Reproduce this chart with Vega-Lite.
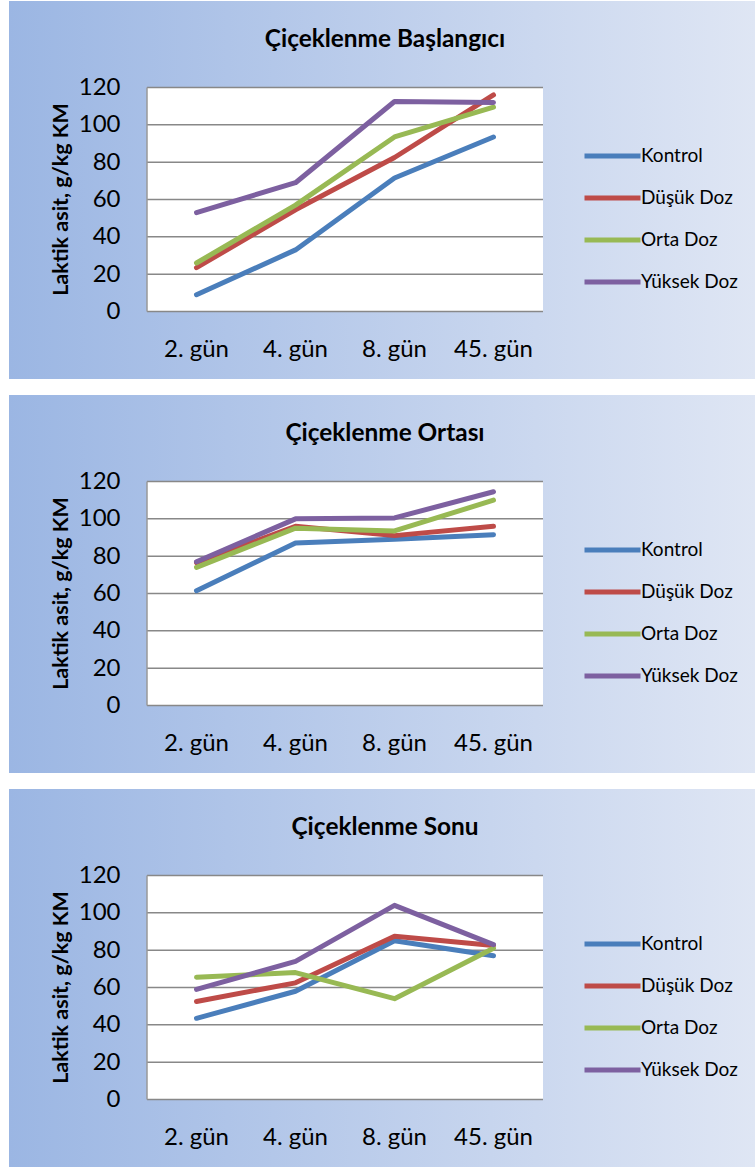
{
  "$schema": "https://vega.github.io/schema/vega-lite/v6.json",
  "background": "white",
  "padding": {"left": 9, "top": 1, "right": 0, "bottom": 0},
  "spacing": 16,
  "datasets": {
    "olcum": [
      {"stage": "Çiçeklenme Başlangıcı", "day": "2. gün", "group": "Kontrol", "value": 9},
      {"stage": "Çiçeklenme Başlangıcı", "day": "4. gün", "group": "Kontrol", "value": 33},
      {"stage": "Çiçeklenme Başlangıcı", "day": "8. gün", "group": "Kontrol", "value": 71.5},
      {"stage": "Çiçeklenme Başlangıcı", "day": "45. gün", "group": "Kontrol", "value": 93.5},
      {"stage": "Çiçeklenme Başlangıcı", "day": "2. gün", "group": "Düşük Doz", "value": 23.5},
      {"stage": "Çiçeklenme Başlangıcı", "day": "4. gün", "group": "Düşük Doz", "value": 54.5},
      {"stage": "Çiçeklenme Başlangıcı", "day": "8. gün", "group": "Düşük Doz", "value": 82.5},
      {"stage": "Çiçeklenme Başlangıcı", "day": "45. gün", "group": "Düşük Doz", "value": 116},
      {"stage": "Çiçeklenme Başlangıcı", "day": "2. gün", "group": "Orta Doz", "value": 26},
      {"stage": "Çiçeklenme Başlangıcı", "day": "4. gün", "group": "Orta Doz", "value": 57},
      {"stage": "Çiçeklenme Başlangıcı", "day": "8. gün", "group": "Orta Doz", "value": 93.5},
      {"stage": "Çiçeklenme Başlangıcı", "day": "45. gün", "group": "Orta Doz", "value": 109.5},
      {"stage": "Çiçeklenme Başlangıcı", "day": "2. gün", "group": "Yüksek Doz", "value": 53},
      {"stage": "Çiçeklenme Başlangıcı", "day": "4. gün", "group": "Yüksek Doz", "value": 69},
      {"stage": "Çiçeklenme Başlangıcı", "day": "8. gün", "group": "Yüksek Doz", "value": 112.5},
      {"stage": "Çiçeklenme Başlangıcı", "day": "45. gün", "group": "Yüksek Doz", "value": 112},
      {"stage": "Çiçeklenme Ortası", "day": "2. gün", "group": "Kontrol", "value": 61.5},
      {"stage": "Çiçeklenme Ortası", "day": "4. gün", "group": "Kontrol", "value": 87},
      {"stage": "Çiçeklenme Ortası", "day": "8. gün", "group": "Kontrol", "value": 89},
      {"stage": "Çiçeklenme Ortası", "day": "45. gün", "group": "Kontrol", "value": 91.5},
      {"stage": "Çiçeklenme Ortası", "day": "2. gün", "group": "Düşük Doz", "value": 76.5},
      {"stage": "Çiçeklenme Ortası", "day": "4. gün", "group": "Düşük Doz", "value": 96},
      {"stage": "Çiçeklenme Ortası", "day": "8. gün", "group": "Düşük Doz", "value": 91},
      {"stage": "Çiçeklenme Ortası", "day": "45. gün", "group": "Düşük Doz", "value": 96},
      {"stage": "Çiçeklenme Ortası", "day": "2. gün", "group": "Orta Doz", "value": 74},
      {"stage": "Çiçeklenme Ortası", "day": "4. gün", "group": "Orta Doz", "value": 95},
      {"stage": "Çiçeklenme Ortası", "day": "8. gün", "group": "Orta Doz", "value": 93.5},
      {"stage": "Çiçeklenme Ortası", "day": "45. gün", "group": "Orta Doz", "value": 110},
      {"stage": "Çiçeklenme Ortası", "day": "2. gün", "group": "Yüksek Doz", "value": 77},
      {"stage": "Çiçeklenme Ortası", "day": "4. gün", "group": "Yüksek Doz", "value": 100},
      {"stage": "Çiçeklenme Ortası", "day": "8. gün", "group": "Yüksek Doz", "value": 100.5},
      {"stage": "Çiçeklenme Ortası", "day": "45. gün", "group": "Yüksek Doz", "value": 114.5},
      {"stage": "Çiçeklenme Sonu", "day": "2. gün", "group": "Kontrol", "value": 43.5},
      {"stage": "Çiçeklenme Sonu", "day": "4. gün", "group": "Kontrol", "value": 58},
      {"stage": "Çiçeklenme Sonu", "day": "8. gün", "group": "Kontrol", "value": 85},
      {"stage": "Çiçeklenme Sonu", "day": "45. gün", "group": "Kontrol", "value": 77},
      {"stage": "Çiçeklenme Sonu", "day": "2. gün", "group": "Düşük Doz", "value": 52.5},
      {"stage": "Çiçeklenme Sonu", "day": "4. gün", "group": "Düşük Doz", "value": 62.5},
      {"stage": "Çiçeklenme Sonu", "day": "8. gün", "group": "Düşük Doz", "value": 87.5},
      {"stage": "Çiçeklenme Sonu", "day": "45. gün", "group": "Düşük Doz", "value": 82.5},
      {"stage": "Çiçeklenme Sonu", "day": "2. gün", "group": "Orta Doz", "value": 65.5},
      {"stage": "Çiçeklenme Sonu", "day": "4. gün", "group": "Orta Doz", "value": 68},
      {"stage": "Çiçeklenme Sonu", "day": "8. gün", "group": "Orta Doz", "value": 54},
      {"stage": "Çiçeklenme Sonu", "day": "45. gün", "group": "Orta Doz", "value": 81},
      {"stage": "Çiçeklenme Sonu", "day": "2. gün", "group": "Yüksek Doz", "value": 59},
      {"stage": "Çiçeklenme Sonu", "day": "4. gün", "group": "Yüksek Doz", "value": 74},
      {"stage": "Çiçeklenme Sonu", "day": "8. gün", "group": "Yüksek Doz", "value": 104},
      {"stage": "Çiçeklenme Sonu", "day": "45. gün", "group": "Yüksek Doz", "value": 83}
    ],
    "gunler": [
      {"day": "2. gün"}, {"day": "4. gün"}, {"day": "8. gün"}, {"day": "45. gün"}
    ],
    "izgara": [
      {"day": "2. gün", "g": 0}, {"day": "2. gün", "g": 20}, {"day": "2. gün", "g": 40}, {"day": "2. gün", "g": 60}, {"day": "2. gün", "g": 80}, {"day": "2. gün", "g": 100}, {"day": "2. gün", "g": 120},
      {"day": "4. gün", "g": 0}, {"day": "4. gün", "g": 20}, {"day": "4. gün", "g": 40}, {"day": "4. gün", "g": 60}, {"day": "4. gün", "g": 80}, {"day": "4. gün", "g": 100}, {"day": "4. gün", "g": 120},
      {"day": "8. gün", "g": 0}, {"day": "8. gün", "g": 20}, {"day": "8. gün", "g": 40}, {"day": "8. gün", "g": 60}, {"day": "8. gün", "g": 80}, {"day": "8. gün", "g": 100}, {"day": "8. gün", "g": 120},
      {"day": "45. gün", "g": 0}, {"day": "45. gün", "g": 20}, {"day": "45. gün", "g": 40}, {"day": "45. gün", "g": 60}, {"day": "45. gün", "g": 80}, {"day": "45. gün", "g": 100}, {"day": "45. gün", "g": 120}
    ]
  },
  "resolve": {
    "scale": {"x": "independent", "y": "independent", "color": "independent"},
    "axis": {"x": "independent", "y": "independent"},
    "legend": {"color": "independent"}
  },
  "vconcat": [
    {
      "width": 746, "height": 378,
      "title": {"text": "Çiçeklenme Başlangıcı"},
      "view": {"stroke": null, "fill": {"gradient": "linear", "x1": 0, "y1": 0, "x2": 1, "y2": 0, "stops": [{"offset": 0, "color": "#9bb6e3"}, {"offset": 1, "color": "#dfe6f4"}]}},
      "layer": [
        {
          "data": {"name": "gunler"},
          "mark": {"type": "rect", "fill": "white"},
          "encoding": {
            "x": {"field": "day", "type": "nominal", "sort": null, "scale": {"type": "band", "domain": ["2. gün", "4. gün", "8. gün", "45. gün"], "range": [138, 534], "paddingInner": 0, "paddingOuter": 0}, "axis": {"title": null, "offset": -67.5, "labelPadding": 44.5}},
            "y": {"datum": 0, "type": "quantitative", "scale": {"domain": [-36.16, 166.34], "nice": false, "zero": false}, "axis": {"title": "Laktik asit, g/kg KM", "values": [0, 20, 40, 60, 80, 100, 120], "offset": -138, "labelPadding": 27, "titleX": -86, "titleY": 198}},
            "y2": {"datum": 120}
          }
        },
        {
          "data": {"name": "izgara"},
          "mark": {"type": "tick", "orient": "horizontal", "size": 99, "thickness": 1.5, "color": "#888888", "opacity": 1},
          "encoding": {
            "x": {"field": "day", "type": "nominal", "sort": null, "scale": {"type": "band", "domain": ["2. gün", "4. gün", "8. gün", "45. gün"], "range": [138, 534], "paddingInner": 0, "paddingOuter": 0}, "axis": {"title": null, "offset": -67.5, "labelPadding": 44.5}},
            "y": {"field": "g", "type": "quantitative", "scale": {"domain": [-36.16, 166.34], "nice": false, "zero": false}, "axis": {"title": "Laktik asit, g/kg KM", "values": [0, 20, 40, 60, 80, 100, 120], "offset": -138, "labelPadding": 27, "titleX": -86, "titleY": 198}}
          }
        },
        {
          "data": {"values": [{}]},
          "mark": {"type": "rule", "color": "#999999", "strokeWidth": 1.5},
          "encoding": {
            "x": {"datum": "2. gün", "type": "nominal", "bandPosition": 0, "scale": {"type": "band", "domain": ["2. gün", "4. gün", "8. gün", "45. gün"], "range": [138, 534], "paddingInner": 0, "paddingOuter": 0}, "axis": {"title": null, "offset": -67.5, "labelPadding": 44.5}},
            "y": {"datum": 0, "type": "quantitative", "scale": {"domain": [-36.16, 166.34], "nice": false, "zero": false}, "axis": {"title": "Laktik asit, g/kg KM", "values": [0, 20, 40, 60, 80, 100, 120], "offset": -138, "labelPadding": 27, "titleX": -86, "titleY": 198}},
            "y2": {"datum": 120}
          }
        },
        {
          "data": {"name": "olcum"},
          "transform": [{"filter": {"field": "stage", "equal": "Çiçeklenme Başlangıcı"}}],
          "mark": {"type": "line", "strokeWidth": 5, "strokeCap": "round", "strokeJoin": "round"},
          "encoding": {
            "x": {"field": "day", "type": "nominal", "sort": null, "scale": {"type": "band", "domain": ["2. gün", "4. gün", "8. gün", "45. gün"], "range": [138, 534], "paddingInner": 0, "paddingOuter": 0}, "axis": {"title": null, "offset": -67.5, "labelPadding": 44.5}},
            "y": {"field": "value", "type": "quantitative", "scale": {"domain": [-36.16, 166.34], "nice": false, "zero": false}, "axis": {"title": "Laktik asit, g/kg KM", "values": [0, 20, 40, 60, 80, 100, 120], "offset": -138, "labelPadding": 27, "titleX": -86, "titleY": 198}},
            "color": {"field": "group", "type": "nominal", "scale": {"domain": ["Kontrol", "Düşük Doz", "Orta Doz", "Yüksek Doz"], "range": ["#4a7ebb", "#be4b48", "#98b954", "#7d60a0"]}, "legend": {"orient": "none", "legendX": 573, "legendY": 145}}
          }
        }
      ]
    },
    {
      "width": 746, "height": 378,
      "title": {"text": "Çiçeklenme Ortası"},
      "view": {"stroke": null, "fill": {"gradient": "linear", "x1": 0, "y1": 0, "x2": 1, "y2": 0, "stops": [{"offset": 0, "color": "#9bb6e3"}, {"offset": 1, "color": "#dfe6f4"}]}},
      "layer": [
        {
          "data": {"name": "gunler"},
          "mark": {"type": "rect", "fill": "white"},
          "encoding": {
            "x": {"field": "day", "type": "nominal", "sort": null, "scale": {"type": "band", "domain": ["2. gün", "4. gün", "8. gün", "45. gün"], "range": [138, 534], "paddingInner": 0, "paddingOuter": 0}, "axis": {"title": null, "offset": -67.5, "labelPadding": 44.5}},
            "y": {"datum": 0, "type": "quantitative", "scale": {"domain": [-36.16, 166.34], "nice": false, "zero": false}, "axis": {"title": "Laktik asit, g/kg KM", "values": [0, 20, 40, 60, 80, 100, 120], "offset": -138, "labelPadding": 27, "titleX": -86, "titleY": 198}},
            "y2": {"datum": 120}
          }
        },
        {
          "data": {"name": "izgara"},
          "mark": {"type": "tick", "orient": "horizontal", "size": 99, "thickness": 1.5, "color": "#888888", "opacity": 1},
          "encoding": {
            "x": {"field": "day", "type": "nominal", "sort": null, "scale": {"type": "band", "domain": ["2. gün", "4. gün", "8. gün", "45. gün"], "range": [138, 534], "paddingInner": 0, "paddingOuter": 0}, "axis": {"title": null, "offset": -67.5, "labelPadding": 44.5}},
            "y": {"field": "g", "type": "quantitative", "scale": {"domain": [-36.16, 166.34], "nice": false, "zero": false}, "axis": {"title": "Laktik asit, g/kg KM", "values": [0, 20, 40, 60, 80, 100, 120], "offset": -138, "labelPadding": 27, "titleX": -86, "titleY": 198}}
          }
        },
        {
          "data": {"values": [{}]},
          "mark": {"type": "rule", "color": "#999999", "strokeWidth": 1.5},
          "encoding": {
            "x": {"datum": "2. gün", "type": "nominal", "bandPosition": 0, "scale": {"type": "band", "domain": ["2. gün", "4. gün", "8. gün", "45. gün"], "range": [138, 534], "paddingInner": 0, "paddingOuter": 0}, "axis": {"title": null, "offset": -67.5, "labelPadding": 44.5}},
            "y": {"datum": 0, "type": "quantitative", "scale": {"domain": [-36.16, 166.34], "nice": false, "zero": false}, "axis": {"title": "Laktik asit, g/kg KM", "values": [0, 20, 40, 60, 80, 100, 120], "offset": -138, "labelPadding": 27, "titleX": -86, "titleY": 198}},
            "y2": {"datum": 120}
          }
        },
        {
          "data": {"name": "olcum"},
          "transform": [{"filter": {"field": "stage", "equal": "Çiçeklenme Ortası"}}],
          "mark": {"type": "line", "strokeWidth": 5, "strokeCap": "round", "strokeJoin": "round"},
          "encoding": {
            "x": {"field": "day", "type": "nominal", "sort": null, "scale": {"type": "band", "domain": ["2. gün", "4. gün", "8. gün", "45. gün"], "range": [138, 534], "paddingInner": 0, "paddingOuter": 0}, "axis": {"title": null, "offset": -67.5, "labelPadding": 44.5}},
            "y": {"field": "value", "type": "quantitative", "scale": {"domain": [-36.16, 166.34], "nice": false, "zero": false}, "axis": {"title": "Laktik asit, g/kg KM", "values": [0, 20, 40, 60, 80, 100, 120], "offset": -138, "labelPadding": 27, "titleX": -86, "titleY": 198}},
            "color": {"field": "group", "type": "nominal", "scale": {"domain": ["Kontrol", "Düşük Doz", "Orta Doz", "Yüksek Doz"], "range": ["#4a7ebb", "#be4b48", "#98b954", "#7d60a0"]}, "legend": {"orient": "none", "legendX": 573, "legendY": 145}}
          }
        }
      ]
    },
    {
      "width": 746, "height": 378,
      "title": {"text": "Çiçeklenme Sonu"},
      "view": {"stroke": null, "fill": {"gradient": "linear", "x1": 0, "y1": 0, "x2": 1, "y2": 0, "stops": [{"offset": 0, "color": "#9bb6e3"}, {"offset": 1, "color": "#dfe6f4"}]}},
      "layer": [
        {
          "data": {"name": "gunler"},
          "mark": {"type": "rect", "fill": "white"},
          "encoding": {
            "x": {"field": "day", "type": "nominal", "sort": null, "scale": {"type": "band", "domain": ["2. gün", "4. gün", "8. gün", "45. gün"], "range": [138, 534], "paddingInner": 0, "paddingOuter": 0}, "axis": {"title": null, "offset": -67.5, "labelPadding": 44.5}},
            "y": {"datum": 0, "type": "quantitative", "scale": {"domain": [-36.16, 166.34], "nice": false, "zero": false}, "axis": {"title": "Laktik asit, g/kg KM", "values": [0, 20, 40, 60, 80, 100, 120], "offset": -138, "labelPadding": 27, "titleX": -86, "titleY": 198}},
            "y2": {"datum": 120}
          }
        },
        {
          "data": {"name": "izgara"},
          "mark": {"type": "tick", "orient": "horizontal", "size": 99, "thickness": 1.5, "color": "#888888", "opacity": 1},
          "encoding": {
            "x": {"field": "day", "type": "nominal", "sort": null, "scale": {"type": "band", "domain": ["2. gün", "4. gün", "8. gün", "45. gün"], "range": [138, 534], "paddingInner": 0, "paddingOuter": 0}, "axis": {"title": null, "offset": -67.5, "labelPadding": 44.5}},
            "y": {"field": "g", "type": "quantitative", "scale": {"domain": [-36.16, 166.34], "nice": false, "zero": false}, "axis": {"title": "Laktik asit, g/kg KM", "values": [0, 20, 40, 60, 80, 100, 120], "offset": -138, "labelPadding": 27, "titleX": -86, "titleY": 198}}
          }
        },
        {
          "data": {"values": [{}]},
          "mark": {"type": "rule", "color": "#999999", "strokeWidth": 1.5},
          "encoding": {
            "x": {"datum": "2. gün", "type": "nominal", "bandPosition": 0, "scale": {"type": "band", "domain": ["2. gün", "4. gün", "8. gün", "45. gün"], "range": [138, 534], "paddingInner": 0, "paddingOuter": 0}, "axis": {"title": null, "offset": -67.5, "labelPadding": 44.5}},
            "y": {"datum": 0, "type": "quantitative", "scale": {"domain": [-36.16, 166.34], "nice": false, "zero": false}, "axis": {"title": "Laktik asit, g/kg KM", "values": [0, 20, 40, 60, 80, 100, 120], "offset": -138, "labelPadding": 27, "titleX": -86, "titleY": 198}},
            "y2": {"datum": 120}
          }
        },
        {
          "data": {"name": "olcum"},
          "transform": [{"filter": {"field": "stage", "equal": "Çiçeklenme Sonu"}}],
          "mark": {"type": "line", "strokeWidth": 5, "strokeCap": "round", "strokeJoin": "round"},
          "encoding": {
            "x": {"field": "day", "type": "nominal", "sort": null, "scale": {"type": "band", "domain": ["2. gün", "4. gün", "8. gün", "45. gün"], "range": [138, 534], "paddingInner": 0, "paddingOuter": 0}, "axis": {"title": null, "offset": -67.5, "labelPadding": 44.5}},
            "y": {"field": "value", "type": "quantitative", "scale": {"domain": [-36.16, 166.34], "nice": false, "zero": false}, "axis": {"title": "Laktik asit, g/kg KM", "values": [0, 20, 40, 60, 80, 100, 120], "offset": -138, "labelPadding": 27, "titleX": -86, "titleY": 198}},
            "color": {"field": "group", "type": "nominal", "scale": {"domain": ["Kontrol", "Düşük Doz", "Orta Doz", "Yüksek Doz"], "range": ["#4a7ebb", "#be4b48", "#98b954", "#7d60a0"]}, "legend": {"orient": "none", "legendX": 573, "legendY": 145}}
          }
        }
      ]
    }
  ],
  "config": {
    "font": "Lato",
    "axis": {
      "domain": false, "ticks": false, "tickSize": 0, "grid": false,
      "labelFont": "Lato", "labelFontSize": 24, "labelColor": "#000000",
      "titleFont": "Lato", "titleFontSize": 21.5, "titleFontWeight": "bold", "titleColor": "#000000"
    },
    "axisX": {"labelAngle": 0, "labelBaseline": "alphabetic"},
    "axisY": {"titleAngle": 270, "titleAlign": "center", "titleBaseline": "middle"},
    "title": {
      "font": "Lato", "fontSize": 24.4, "fontWeight": "bold", "color": "#000000",
      "anchor": "middle", "frame": "group", "offset": -51, "baseline": "alphabetic", "dx": 3
    },
    "legend": {
      "title": null, "padding": 0, "symbolType": "stroke", "symbolSize": 3136, "symbolStrokeWidth": 5,
      "clipHeight": 20, "rowPadding": 22, "labelOffset": -2,
      "labelFont": "Lato", "labelFontSize": 19, "labelColor": "#000000"
    }
  }
}
